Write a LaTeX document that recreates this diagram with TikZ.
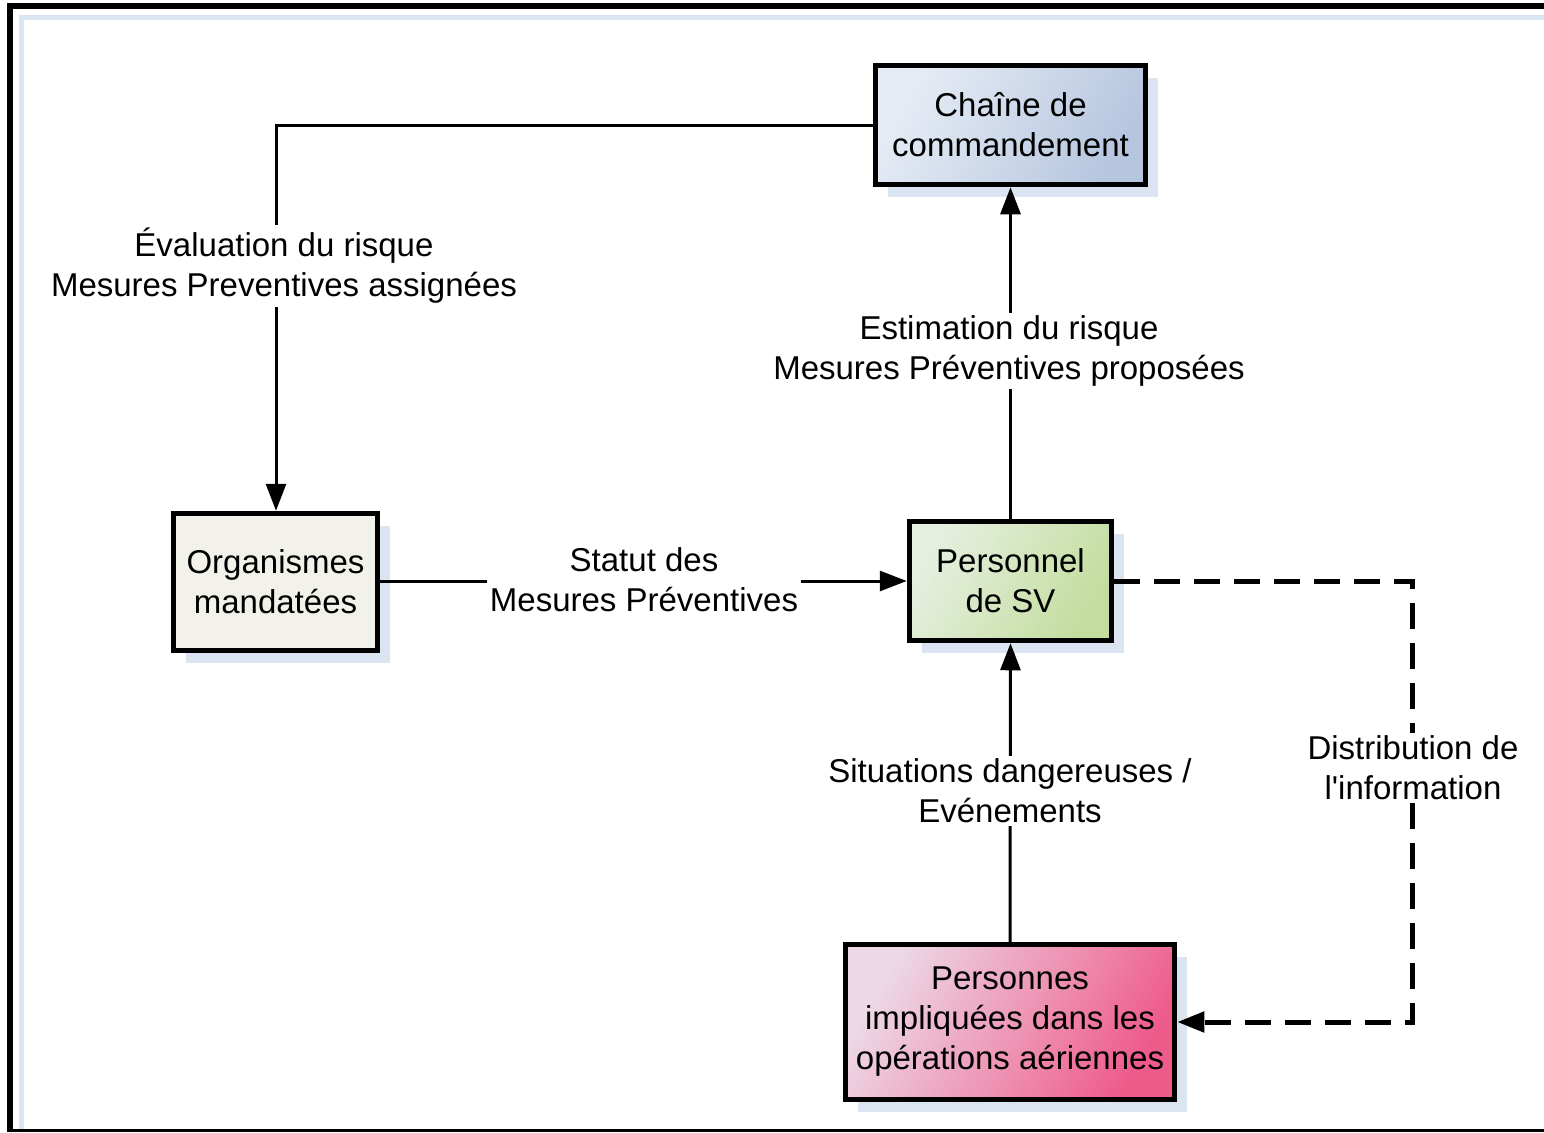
\documentclass[tikz,border=0pt]{standalone}
\usepackage{fontspec}
\setmainfont{Liberation Sans}
\newfontfamily\plainf{Liberation Sans}[Ligatures=ResetAll]
\usetikzlibrary{arrows.meta,shadows}
\definecolor{shadowc}{HTML}{DBE5F1}
\definecolor{chA}{HTML}{E6ECF5}
\definecolor{chB}{HTML}{B6C6DF}
\definecolor{orgc}{HTML}{F2F2EA}
\definecolor{peA}{HTML}{E6EFE0}
\definecolor{peB}{HTML}{C3DD9E}
\definecolor{piA}{HTML}{EDD9E6}
\definecolor{piB}{HTML}{EE5B8B}
\tikzset{
  boxnode/.style={draw=black, line width=5.5pt, align=center, inner sep=2pt,
    font=\fontsize{33}{40}\selectfont,
    drop shadow={shadow xshift=12pt, shadow yshift=-12pt, fill=shadowc, opacity=1}},
  lbl/.style={fill=white, align=center, inner sep=3pt, font=\fontsize{33}{40}\selectfont},
  conn/.style={line width=3pt, -{Triangle[length=27pt,width=20pt]}},
  dconn/.style={line width=5pt, dash pattern=on 26pt off 14pt, -{Triangle[length=27pt,width=20pt]}},
}
\begin{document}
\begin{tikzpicture}[x=1pt,y=-1pt]
\useasboundingbox (0,0) rectangle (1544,1132);
% frame
\draw[shadowc, line width=5pt] (21.5,1130) -- (21.5,17.5) -- (1544,17.5);
\draw[line width=6pt] (10,1132) -- (10,6.5) -- (1544,6.5);
\draw[line width=3.5pt] (10,1130.5) -- (1544,1130.5);

% boxes
\node[boxnode, minimum width=270pt, minimum height=119pt,
  left color=chA, right color=chB, shading angle=60] (ch) at (1010.5,125) {Chaîne de\\commandement};
\node[boxnode, minimum width=204pt, minimum height=137pt, fill=orgc] (org) at (275.5,582) {Organismes\\mandatées};
\node[boxnode, minimum width=202pt, minimum height=119pt,
  left color=peA, right color=peB, shading angle=60] (pe) at (1010.5,581) {Personnel\\de SV};
\node[boxnode, minimum width=329pt, minimum height=155pt,
  left color=piA, right color=piB, shading angle=60] (pi) at (1010,1022) {Personnes\\impliquées dans les\\opérations aériennes};

\coordinate (c1) at (276,125);
\coordinate (d1) at (1412,581);
\coordinate (d2) at (1412,1022);

% connectors
\draw[conn] (ch.west |- 0,125) -- (c1) -- (org.north -| c1);
\draw[conn] (org.east |- 0,581) -- (pe.west |- 0,581);
\draw[conn] (pe.north) -- (ch.south);
\draw[conn] (pi.north) -- (pe.south);
\draw[dconn] (pe.east |- 0,581) -- (d1) -- (d2) -- (pi.east |- 0,1022);

% labels
\node[lbl] (l1) at (284,266) {Évaluation du risque\\Mesures Preventives assignées};
\node[lbl] (l2) at (1009,351) {Estimation du risque\\Mesures Préventives proposées};
\node[lbl] (l3) at (644,580) {Statut des\\Mesures Préventives};
\node[lbl] (l4) at (1010,791) {Situations dangereuses /\\Evénements};
\node[lbl] (l5) at (1413,768) {Distribution de\\{\plainf l'information}};
\end{tikzpicture}
\end{document}
